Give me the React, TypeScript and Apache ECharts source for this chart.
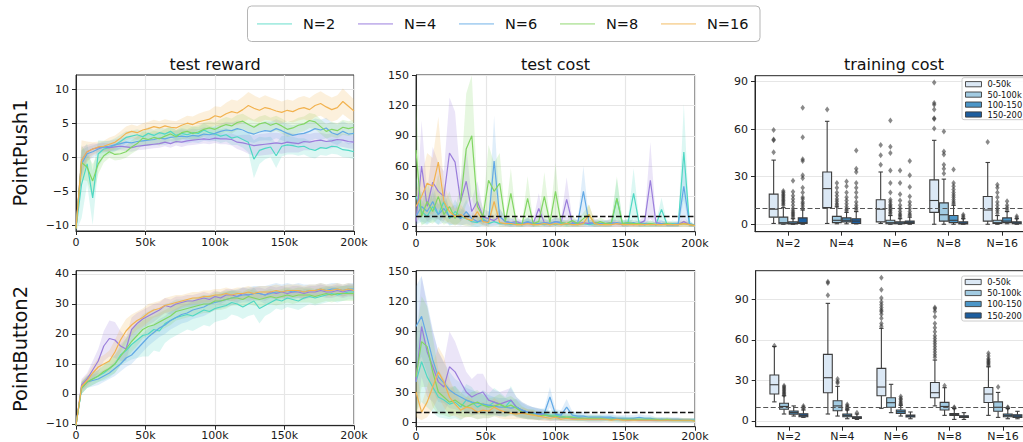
import React, { useEffect, useRef } from 'react';
import * as echarts from 'echarts';

// ---------- shared axis values ----------
const X_K = [0, 4, 8, 12, 16, 20, 24, 28, 32, 36, 40, 44, 48, 52, 56, 60, 64, 68, 72, 76, 80, 84, 88, 92, 96, 100, 104, 108, 112, 116, 120, 124, 128, 132, 136, 140, 144, 148, 152, 156, 160, 164, 168, 172, 176, 180, 184, 188, 192, 196, 200];
const NAMES = ['N=2', 'N=4', 'N=6', 'N=8', 'N=16'];
const CATS = ['N=2', 'N=4', 'N=6', 'N=8', 'N=16'];
const HUES = ['0-50k', '50-100k', '100-150', '150-200'];
const COST_LIMIT = 10;
const COLORS = ['#4fd8c4', '#9a7ddb', '#62a9e6', '#82d663', '#f2b24f'];
const LEGEND_COLORS = ['#a9ece2', '#c6b6ec', '#aed3f2', '#c0e9ae', '#f8d9a6'];
const BOX_COLORS = ['#dbe8f5', '#a2cbe2', '#4c96c8', '#1d5e9f'];

// ---------- PointPush1 test reward (mean, half-width) ----------
const R1_N2 = [-10.5, -4, -1, -6, 0.5, 1.2, 1.4, 1.8, 2.3, 2.9,
  3.1, 3.3, 3.0, 3.5, 3.2, 3.6, 3.4, 3.8, 3.2, 3.5,
  3.3, 3.6, 3.5, 4.0, 3.6, 3.4, 3.1, 3.3, 2.8, 3.0,
  2.6, 2.2, -0.3, 1.0, 1.3, 1.5, 0.2, 1.6, 1.8, 1.7,
  1.5, 1.6, 1.2, 1.0, 1.4, 1.3, 1.6, 1.5, 1.1, 1.0, 0.8];
const R1_N4 = [-10.5, -0.5, 0.8, 1.2, 1.4, 1.5, 1.4, 1.5, 1.6, 1.5,
  1.4, 1.6, 1.7, 1.8, 1.9, 2.0, 2.2, 2.0, 2.3, 2.2,
  2.4, 2.5, 2.6, 2.7, 2.6, 2.8, 2.7, 2.7, 2.6, 2.2,
  2.1, 1.9, 1.7, 1.8, 1.9, 2.0, 2.1, 2.0, 2.2, 2.1,
  2.0, 2.3, 2.2, 2.4, 2.5, 2.3, 2.4, 2.6, 2.5, 2.3, 2.2];
const R1_N6 = [-10.5, -1, 0.5, 0.8, 1.2, 1.5, 1.6, 1.8, 2.0, 2.2,
  2.1, 2.3, 2.4, 2.5, 2.6, 2.8, 2.7, 2.9, 3.0, 3.1,
  3.0, 3.2, 3.1, 3.4, 3.3, 3.5, 3.8, 4.0, 3.9, 4.2,
  4.0, 3.6, 3.4, 3.7, 3.9, 3.8, 4.2, 3.9, 3.5, 3.2,
  3.4, 3.5, 3.8, 4.2, 4.0, 4.3, 3.6, 3.3, 3.8, 3.4, 3.5];
const R1_N8 = [-10.5, -0.8, -1.5, -3.5, -1.0, 0.2, 0.8, 0.4, 0.5, 0.8,
  1.5, 2.0, 2.8, 2.6, 2.9, 2.7, 3.1, 3.4, 3.0, 3.6,
  3.8, 3.5, 3.7, 4.1, 4.3, 4.1, 4.5, 4.8, 4.6, 5.1,
  5.3, 4.8, 4.4, 4.9, 5.1, 4.7, 5.0, 4.6, 4.1, 4.3,
  4.7, 4.9, 5.4, 5.2, 4.5, 3.8, 4.1, 3.9, 4.4, 4.2, 4.4];
const R1_N16 = [-10.5, -0.5, 0.8, 1.2, 1.5, 1.6, 1.9, 2.2, 2.8, 3.5,
  3.8, 3.6, 4.0, 4.2, 4.5, 4.3, 4.6, 4.4, 4.3, 4.7,
  5.0, 4.8, 5.2, 5.4, 5.6, 6.1, 5.9, 6.4, 6.7, 6.5,
  7.0, 7.6, 7.2, 6.9, 7.3, 7.1, 6.8, 6.6, 6.9, 6.7,
  7.1, 7.3, 7.0, 7.6, 7.9, 7.4, 7.0, 7.3, 8.2, 7.5, 6.8];
const R1S_N2 = [0.5, 5, 3, 4, 2, 1.2, 1, 1, 1, 0.9,
  0.8, 0.8, 0.8, 0.9, 0.8, 0.8, 0.8, 0.8, 0.8, 0.8,
  0.8, 0.9, 0.9, 1, 1, 1, 1, 1, 1, 1.2,
  1.2, 1.5, 2.8, 2, 1.6, 1.5, 1.8, 1.5, 1.4, 1.3,
  1.3, 1.2, 1.2, 1.2, 1.1, 1.1, 1.1, 1.1, 1.1, 1.1, 1.1];
const R1S_N4 = [0.5, 2, 1, 0.8, 0.6, 0.6, 0.6, 0.6, 0.6, 0.6,
  0.6, 0.6, 0.6, 0.6, 0.6, 0.6, 0.6, 0.6, 0.6, 0.7,
  0.7, 0.7, 0.7, 0.7, 0.7, 0.7, 0.8, 0.8, 0.9, 1.0,
  1.2, 1.4, 1.5, 1.6, 1.6, 1.6, 1.5, 1.5, 1.5, 1.4,
  1.3, 1.3, 1.2, 1.2, 1.1, 1.1, 1.1, 1.0, 1.0, 1.0, 1.0];
const R1S_N6 = [0.5, 2, 1, 0.9, 0.8, 0.8, 0.8, 0.8, 0.8, 0.8,
  0.8, 0.8, 0.8, 0.8, 0.9, 0.9, 0.9, 0.9, 0.9, 1,
  1, 1, 1, 1, 1, 1.1, 1.1, 1.2, 1.2, 1.2,
  1.3, 1.3, 1.3, 1.3, 1.4, 1.4, 1.4, 1.4, 1.4, 1.5,
  1.5, 1.5, 1.5, 1.5, 1.5, 1.5, 1.5, 1.5, 1.5, 1.5, 1.5];
const R1S_N8 = [0.5, 2.5, 2, 2.5, 1.5, 1, 0.9, 0.9, 0.9, 0.9,
  1, 1, 1, 1, 1, 1, 1, 1, 1, 1,
  1, 1, 1, 1, 1, 1, 1.1, 1.1, 1.1, 1.1,
  1.1, 1.1, 1.1, 1.1, 1.1, 1.1, 1.1, 1.1, 1.1, 1.1,
  1.1, 1.1, 1.1, 1.1, 1.1, 1.1, 1.1, 1.1, 1.1, 1.1, 1.1];
const R1S_N16 = [0.5, 3, 1.5, 1, 0.8, 0.8, 1, 1, 1, 1,
  1, 1, 1, 1, 1, 1, 1, 1, 1, 1,
  1.1, 1.2, 1.2, 1.3, 1.3, 1.4, 1.5, 1.6, 1.8, 1.8,
  1.9, 2.0, 1.9, 1.8, 1.8, 1.7, 1.7, 1.6, 1.6, 1.6,
  1.7, 1.7, 1.7, 1.7, 1.8, 1.8, 1.8, 1.8, 1.9, 1.8, 1.7];

// ---------- PointButton2 test reward ----------
const R2_N2 = [-10.5, 2, 4, 5, 6, 7, 8.5, 10, 13, 14.5,
  16.5, 18, 19.5, 20, 21.5, 21, 23.5, 24.5, 25.5, 26,
  26.5, 26, 27, 28, 27.5, 28.5, 29, 29.5, 30.5, 30,
  29, 30, 31, 28.5, 29.5, 30.5, 31.5, 31, 32, 31.5,
  31, 32, 32.5, 32, 32.5, 33, 33.5, 33, 33.5, 34, 34];
const R2_N4 = [-10.5, 3, 5, 8, 11, 16, 18.5, 18, 16, 15,
  21.5, 23.5, 25, 26, 27, 28, 29.5, 29, 30, 30.5,
  31, 31, 31.5, 32, 31.5, 32.5, 32, 33, 33, 32.5,
  33.5, 33, 33.5, 33.5, 33, 34, 33.5, 34, 33.5, 34,
  34, 33.5, 34, 34, 34.5, 34, 34, 34.5, 34, 34.5, 34.5];
const R2_N6 = [-10.5, 2, 4, 4.5, 5, 6, 7, 8.5, 10, 12,
  13, 15, 17, 19, 20.5, 22, 23, 24.5, 25.5, 26.5,
  27, 28, 28.5, 29, 30, 30.5, 31, 31.5, 32, 32.5,
  33, 33, 33.5, 33.5, 33, 33.5, 34, 34, 34.5, 34,
  34.5, 34, 34.5, 34.5, 35, 34.5, 35, 35, 34.5, 35, 35];
const R2_N8 = [-10.5, 2, 4, 5, 6, 7.5, 8.5, 10, 12.5, 15,
  17.5, 19.5, 21.5, 22.5, 23, 24, 25, 26, 27.5, 28,
  28.5, 29, 29.5, 30, 30, 31, 31, 31.5, 32, 32,
  31.5, 32.5, 32, 31.5, 32, 32.5, 32, 32.5, 33, 32.5,
  33, 33, 33, 32.5, 33, 33.5, 33, 33.5, 33.5, 33.5, 33.5];
const R2_N16 = [-10.5, 2.5, 4.5, 7, 9, 10, 11, 14, 18, 21,
  23, 24.5, 25.5, 27, 28, 28.5, 29.5, 30, 30.5, 31,
  31.5, 32, 32, 32.5, 32.5, 33, 33, 33.5, 33, 33.5,
  33.5, 34, 33.5, 34, 34, 34, 34.5, 34, 34.5, 34.5,
  34.5, 34, 34.5, 34.5, 35, 34.5, 34.5, 35, 34.5, 35, 34.5];
const R2S_N2 = [0.5, 2, 2, 2, 2, 2.5, 3, 3, 3.5, 4,
  5, 6, 7, 7.5, 7, 7, 6.5, 6, 6, 5.5,
  5, 5, 5, 5, 5, 4.5, 4.5, 4.5, 4, 4,
  4, 4, 4.5, 5, 3.5, 3.5, 3, 3, 3, 3,
  3, 3, 2.5, 2.5, 2.5, 2.5, 2.5, 2.5, 2.5, 2.5, 2.5];
const R2S_N4 = [0.5, 2, 2, 3, 4, 5, 6, 6, 5, 4,
  4, 3.5, 3, 3, 3, 2.5, 2.5, 2.5, 2.5, 2,
  2, 2, 2, 2, 2, 2, 2, 2, 2, 2,
  2, 2, 2, 2, 2, 2, 2, 2, 2, 2,
  2, 2, 2, 2, 2, 2, 2, 2, 2, 2, 2];
const R2S_N6 = [0.5, 2, 2, 2, 2, 2, 2, 2.5, 2.5, 3,
  3, 3, 3, 3, 3, 3, 3, 3, 3, 3,
  3, 3, 3, 3, 3, 2.5, 2.5, 2.5, 2.5, 2.5,
  2.5, 2.5, 2.5, 2.5, 3, 3, 3, 2.5, 2.5, 2.5,
  2.5, 2.5, 2, 2, 2, 2, 2, 2, 2, 2, 2];
const R2S_N8 = [0.5, 2, 2, 2, 2, 2.5, 2.5, 3, 3, 3.5,
  3.5, 3.5, 3, 3, 3, 3, 3, 3, 3, 3,
  3, 3, 3, 3, 3, 3, 3, 3, 2.5, 2.5,
  2.5, 2.5, 2.5, 2.5, 2.5, 2.5, 2.5, 2.5, 2.5, 2.5,
  2.5, 2.5, 2.5, 2.5, 2.5, 2.5, 2.5, 2.5, 2.5, 2.5, 2.5];
const R2S_N16 = [0.5, 2, 2, 2.5, 3, 3, 3.5, 4, 4, 4,
  3.5, 3, 3, 3, 2.5, 2.5, 2.5, 2.5, 2.5, 2,
  2, 2, 2, 2, 2, 2, 2, 2, 2, 2,
  2, 2, 2, 2, 2, 2, 2, 2, 2, 2,
  2, 2, 2, 2, 2, 2, 2, 2, 2, 2, 2];

// ---------- PointPush1 test cost ----------
const C1_N2 = [30, 15, 10, 20, 12, 25, 8, 15, 10, 8,
  5, 4, 8, 3, 5, 3, 3, 2, 3, 2,
  5, 2, 3, 2, 3, 2, 3, 2, 3, 2,
  3, 2, 3, 2, 3, 2, 28, 3, 4, 33,
  3, 2, 3, 2, 17, 2, 3, 2, 74, 3, 1];
const C1_N4 = [5, 60, 20, 44, 35, 30, 73, 64, 25, 45,
  15, 25, 10, 8, 6, 10, 5, 4, 5, 3,
  4, 3, 18, 4, 3, 5, 4, 27, 4, 3,
  4, 3, 4, 3, 3, 4, 3, 2, 3, 2,
  3, 6, 46, 4, 3, 2, 2, 2, 5, 2, 1];
const C1_N6 = [10, 20, 15, 25, 12, 18, 10, 12, 8, 15,
  8, 5, 6, 5, 65, 10, 5, 4, 3, 3,
  5, 3, 3, 4, 3, 5, 4, 3, 3, 4,
  35, 4, 3, 3, 3, 3, 4, 3, 3, 4,
  2, 3, 2, 2, 3, 2, 2, 3, 40, 3, 1];
const C1_N8 = [76, 10, 25, 15, 30, 12, 20, 8, 25, 77,
  90, 20, 10, 46, 35, 43, 5, 33, 3, 2,
  28, 3, 5, 30, 4, 35, 4, 3, 6, 3,
  8, 12, 3, 5, 3, 4, 28, 3, 4, 3,
  3, 2, 3, 2, 2, 3, 2, 2, 3, 2, 1];
const C1_N16 = [20, 30, 43, 40, 64, 25, 15, 10, 12, 8,
  6, 15, 5, 4, 25, 4, 3, 3, 2, 2,
  3, 2, 2, 3, 2, 3, 2, 3, 2, 2,
  3, 12, 3, 2, 2, 2, 3, 2, 2, 2,
  2, 2, 2, 2, 2, 2, 2, 2, 3, 2, 1];
const C1S_N2 = [20, 12, 8, 15, 10, 15, 7, 12, 8, 7,
  5, 4, 7, 3, 4, 3, 3, 2, 3, 2,
  4, 2, 3, 2, 3, 2, 3, 2, 3, 2,
  3, 2, 3, 2, 3, 2, 20, 3, 4, 25,
  3, 2, 3, 2, 12, 2, 3, 2, 48, 3, 1];
const C1S_N4 = [5, 45, 15, 35, 28, 25, 55, 50, 20, 35,
  12, 20, 8, 7, 5, 8, 4, 4, 4, 3,
  4, 3, 15, 4, 3, 4, 4, 22, 4, 3,
  4, 3, 4, 3, 3, 4, 3, 2, 3, 2,
  3, 5, 38, 4, 3, 2, 2, 2, 4, 2, 1];
const C1S_N6 = [8, 15, 12, 18, 10, 14, 8, 10, 7, 12,
  7, 5, 5, 4, 45, 8, 4, 4, 3, 3,
  4, 3, 3, 3, 3, 4, 3, 3, 3, 3,
  25, 3, 3, 3, 3, 3, 3, 3, 3, 3,
  2, 3, 2, 2, 3, 2, 2, 3, 30, 3, 1];
const C1S_N8 = [50, 9, 20, 12, 22, 10, 15, 7, 20, 55,
  60, 15, 8, 35, 28, 30, 4, 25, 3, 2,
  22, 3, 4, 24, 4, 28, 3, 3, 5, 3,
  6, 10, 3, 4, 3, 3, 22, 3, 3, 3,
  3, 2, 3, 2, 2, 3, 2, 2, 3, 2, 1];
const C1S_N16 = [15, 20, 30, 28, 45, 18, 12, 8, 10, 7,
  5, 12, 4, 4, 18, 4, 3, 3, 2, 2,
  3, 2, 2, 3, 2, 3, 2, 3, 2, 2,
  3, 10, 3, 2, 2, 2, 3, 2, 2, 2,
  2, 2, 2, 2, 2, 2, 2, 2, 3, 2, 1];

// ---------- PointButton2 test cost ----------
const C2_N2 = [40, 60, 45, 35, 25, 22, 18, 20, 15, 22,
  20, 15, 18, 16, 20, 18, 15, 22, 15, 12,
  10, 9, 8, 8, 7, 7, 6, 5, 5, 5,
  4, 4, 4, 4, 4, 4, 3, 3, 3, 3,
  3, 3, 3, 2, 3, 2, 2, 2, 2, 2, 2];
const C2_N4 = [40, 95, 70, 55, 40, 35, 55, 50, 40, 30,
  25, 28, 30, 22, 20, 18, 20, 22, 15, 12,
  10, 9, 8, 7, 6, 5, 5, 4, 4, 4,
  4, 3, 3, 3, 3, 3, 3, 3, 2, 3,
  2, 2, 2, 2, 2, 2, 2, 2, 2, 2, 2];
const C2_N6 = [95, 105, 84, 62, 45, 39, 32, 28, 25, 22,
  20, 19, 18, 17, 16, 15, 15, 14, 15, 12,
  10, 9, 8, 9, 25, 8, 7, 15, 7, 6,
  6, 5, 5, 5, 5, 5, 4, 4, 4, 4,
  5, 4, 4, 3, 3, 3, 3, 3, 2, 2, 2];
const C2_N8 = [45, 80, 75, 50, 30, 25, 20, 22, 18, 15,
  18, 20, 17, 15, 16, 18, 15, 17, 14, 10,
  8, 8, 6, 7, 6, 6, 5, 5, 5, 4,
  4, 4, 4, 4, 3, 3, 3, 3, 3, 3,
  3, 3, 3, 3, 2, 3, 2, 2, 2, 2, 2];
const C2_N16 = [30, 10, 20, 35, 50, 40, 25, 18, 12, 15,
  14, 10, 12, 11, 15, 12, 10, 9, 8, 9,
  8, 7, 6, 5, 4, 5, 3, 4, 3, 3,
  3, 3, 3, 3, 3, 2, 3, 2, 2, 2,
  2, 2, 2, 2, 2, 2, 2, 2, 2, 2, 1];
const C2S_N2 = [30, 40, 30, 25, 20, 18, 15, 16, 13, 16,
  15, 12, 14, 12, 14, 12, 10, 14, 10, 8,
  7, 6, 6, 5, 5, 5, 4, 4, 4, 4,
  3, 3, 3, 3, 3, 3, 3, 3, 2, 2,
  2, 2, 2, 2, 2, 2, 2, 2, 2, 2, 2];
const C2S_N4 = [35, 50, 45, 35, 30, 25, 35, 30, 25, 20,
  18, 20, 18, 15, 12, 12, 12, 12, 10, 8,
  7, 6, 6, 5, 5, 4, 4, 3, 3, 3,
  3, 3, 3, 3, 2, 2, 2, 2, 2, 2,
  2, 2, 2, 2, 2, 2, 2, 2, 2, 2, 2];
const C2S_N6 = [40, 40, 35, 30, 25, 20, 18, 15, 14, 12,
  12, 11, 10, 10, 9, 9, 9, 8, 8, 7,
  6, 6, 5, 5, 10, 5, 5, 8, 4, 4,
  4, 3, 3, 3, 3, 3, 3, 3, 3, 3,
  3, 3, 3, 2, 2, 2, 2, 2, 2, 2, 2];
const C2S_N8 = [40, 45, 40, 35, 22, 18, 15, 14, 12, 10,
  12, 12, 10, 9, 9, 10, 9, 9, 8, 6,
  5, 5, 4, 4, 4, 4, 3, 3, 3, 3,
  3, 3, 3, 3, 2, 2, 2, 2, 2, 2,
  2, 2, 2, 2, 2, 2, 2, 2, 2, 2, 2];
const C2S_N16 = [25, 8, 15, 22, 25, 25, 18, 12, 9, 10,
  9, 7, 8, 7, 9, 8, 7, 6, 5, 6,
  5, 5, 4, 4, 3, 3, 2, 3, 2, 2,
  2, 2, 2, 2, 2, 2, 2, 2, 2, 2,
  2, 2, 2, 2, 2, 2, 2, 2, 2, 2, 1];

// ---------- training cost boxes: [low whisker, q1, median, q3, high whisker] per category ----------
const PP1_BOX_H0 = [[0.5, 4.5, 9.5, 19, 40.5], [0.5, 10.5, 22.5, 33, 65], [0.5, 1.5, 9.5, 15.5, 33], [0, 7.5, 15, 28, 53], [0, 2, 9, 17.5, 39]];
const PP1_BOX_H1 = [[0, 0.3, 1, 4.5, 10.5], [0.3, 1, 2.5, 5, 11], [0, 0.3, 1, 2.5, 5.5], [0, 2, 6, 13.5, 28.5], [0, 0.5, 1, 2.5, 5.5]];
const PP1_BOX_H2 = [[0, 0.2, 0.5, 1.5, 3.5], [0.3, 1.5, 2.5, 4, 7.5], [0, 0.3, 0.8, 1.5, 3.5], [0, 1, 2.5, 5.5, 12], [0.3, 1, 2, 4, 8]];
const PP1_BOX_H3 = [[0, 0.5, 1, 4, 9], [0.2, 0.5, 2, 3.5, 8], [0, 0.5, 1, 2, 4.5], [0, 0.2, 0.5, 1.5, 3.5], [0, 0.3, 0.8, 1.5, 3.5]];
const PP1_OUT_H0 = [[45.5, 53, 53.5, 59.5], [72.5], [37.5, 43.5, 50], [60.5, 66.5, 67, 72.5, 75.5, 76.5, 89.5], [52]];
const PP1_OUT_H1 = [[12, 13, 14, 15, 16, 17, 18, 19, 20, 21], [12, 13, 14.5, 16, 18, 20, 23, 26], [6.5, 7.5, 8.5, 9.5, 10.5, 11.5, 12.5, 14, 15.5, 20, 26, 34, 45, 49, 65.5], [32, 35, 37.5, 44, 46, 58.5], [7, 8.5, 10, 12, 14, 17, 20, 23, 25]];
const PP1_OUT_H2 = [[4.5, 5.5, 6.5, 7.5, 8.5, 10, 12, 14, 16, 18, 20.5, 27.5], [8.5, 9.5, 11, 13, 15, 17, 20, 24, 27], [4.5, 5.5, 6.5, 8, 10, 12, 15, 19, 26, 34], [13, 14, 15.5, 17, 18.5, 20, 22, 24, 26, 34.5], [9, 10.5, 12, 14.5]];
const PP1_OUT_H3 = [[10, 11.5, 13, 14, 16, 17, 20, 23, 29, 31, 40, 41, 55, 73.5], [9, 10.5, 12, 14, 17, 20, 23, 26, 33, 35, 46.5], [5.5, 6.5, 8, 10, 12, 14, 17.5, 23.5, 31, 40], [4, 5, 6], [4, 5]];

const PB2_BOX_H0 = [[14, 19.8, 26.7, 33.9, 55], [5, 20.8, 31.9, 49.2, 87], [9.2, 18.5, 25, 38.8, 68.5], [11, 17, 20.8, 28.4, 45], [4, 13.5, 19.8, 24.7, 40]];
const PB2_BOX_H1 = [[5, 8.5, 10.6, 13, 18.5], [3.5, 7.4, 11, 14.8, 25.5], [6, 10, 13.4, 17, 27], [4, 8, 10.6, 13.6, 24.5], [2.5, 7, 10, 14, 21]];
const PB2_BOX_H2 = [[3.5, 4.9, 6.2, 7.2, 11], [1.5, 3, 4, 5, 8], [3.5, 5.4, 6.7, 8, 11.5], [1, 4, 4.7, 5.4, 9], [1.5, 3, 4, 5, 9]];
const PB2_BOX_H3 = [[2.5, 3, 4, 5.2, 8], [1, 1.7, 2.5, 3, 5], [1.5, 2.8, 3.5, 4.2, 6.5], [1, 2.5, 3, 3.7, 6], [1.5, 2.5, 3.5, 4.5, 7]];
const PB2_OUT_H0 = [[55.5], [93, 102, 103], [70, 72, 76, 79, 81, 82, 84, 86, 88, 91, 97, 106], [47, 49, 51, 53, 55, 57, 59, 61, 63, 66, 69, 72, 77, 81, 83, 84], [41, 42, 43, 44, 45, 46, 48, 50]];
const PB2_OUT_H1 = [[19, 20, 21, 22, 23, 24, 25, 26], [28, 29, 31], [], [26], [25]];
const PB2_OUT_H2 = [[], [8.5, 9, 10, 11, 12], [12, 13, 14, 15.5, 16.5, 18], [9.5, 10], [9.5, 10]];
const PB2_OUT_H3 = [[9, 10, 11], [6], [], [], []];

// ---------- tick values ----------
const R1_TICKS = [-10, -5, 0, 5, 10];
const R2_TICKS = [-10, 0, 10, 20, 30, 40];
const COST_TICKS = [0, 30, 60, 90, 120, 150];
const BOX_TICKS = [0, 30, 60, 90];
const CAT_TICKS = [0, 1, 2, 3, 4];

// ---------- layout / style ----------
const FONT = 'DejaVu Sans';
const AXIS_COLOR = '#262626';
const GRID_COLOR = '#e6e6e6';
const BOX_EDGE = '#3d3d3d';
const HUE_OFF = 0.181;
const BOX_W = 0.165;

const GRIDS = [
  { left: 76, top: 75, width: 278, height: 156 },
  { left: 416, top: 75, width: 279, height: 156.7 },
  { left: 755, top: 75.7, width: 274, height: 156 },
  { left: 76, top: 270.7, width: 278, height: 155 },
  { left: 416, top: 270.7, width: 279, height: 156 },
  { left: 755.7, top: 270.7, width: 274, height: 156 },
];
const Y_RANGES = [
  { min: -10.88, max: 12.1, ticks: R1_TICKS },
  { min: -5, max: 150.3, ticks: COST_TICKS },
  { min: -4.7, max: 93.8, ticks: BOX_TICKS },
  { min: -10.57, max: 41.1, ticks: R2_TICKS },
  { min: -4.4, max: 150.3, ticks: COST_TICKS },
  { min: -4.4, max: 111.2, ticks: BOX_TICKS },
];

const fmtNum = (v: number) => (v < 0 ? '\u2212' + Math.abs(v) : String(v));
const labelStyle = { color: '#1a1a1a', fontFamily: FONT, fontSize: 11 };

function buildOption() {
  const grid = GRIDS.map((g) => ({ ...g, show: true, borderColor: AXIS_COLOR, borderWidth: 1, containLabel: false, outerBoundsMode: 'none' }));

  const xAxis = GRIDS.map((_, gi) => {
    const isBox = gi === 2 || gi === 5;
    const margin = gi >= 3 ? 4.5 : 6;
    if (isBox) {
      return {
        type: 'value', gridIndex: gi, min: -0.62, max: 4.5,
        axisLine: { show: true, onZero: false, lineStyle: { color: AXIS_COLOR } },
        axisTick: { show: true, length: 4, customValues: CAT_TICKS, lineStyle: { color: AXIS_COLOR } },
        axisLabel: { ...labelStyle, margin, customValues: CAT_TICKS, formatter: (v: number) => CATS[Math.round(v)] },
        splitLine: { show: false },
      };
    }
    return {
      type: 'value', gridIndex: gi, min: 0, max: 200, interval: 50,
      axisLine: { show: true, onZero: false, lineStyle: { color: AXIS_COLOR } },
      axisTick: { show: true, length: 4, lineStyle: { color: AXIS_COLOR } },
      axisLabel: { ...labelStyle, margin, showMinLabel: true, showMaxLabel: true, formatter: (v: number) => (v === 0 ? '0' : v + 'k') },
      splitLine: { show: true, lineStyle: { color: GRID_COLOR, width: 1.2 } },
    };
  });

  const yAxis = Y_RANGES.map((r, gi) => ({
    type: 'value', gridIndex: gi, min: r.min, max: r.max,
    axisLine: { show: true, onZero: false, lineStyle: { color: AXIS_COLOR } },
    axisTick: { show: true, length: 4, customValues: r.ticks, lineStyle: { color: AXIS_COLOR } },
    axisLabel: { ...labelStyle, margin: 7, customValues: r.ticks, formatter: fmtNum },
    splitLine: { show: true, lineStyle: { color: GRID_COLOR, width: 1.2 } },
  }));

  const series: any[] = [];
  const LINE_PANELS = [
    { gi: 0, means: [R1_N2, R1_N4, R1_N6, R1_N8, R1_N16], spreads: [R1S_N2, R1S_N4, R1S_N6, R1S_N8, R1S_N16], limit: false },
    { gi: 1, means: [C1_N2, C1_N4, C1_N6, C1_N8, C1_N16], spreads: [C1S_N2, C1S_N4, C1S_N6, C1S_N8, C1S_N16], limit: true },
    { gi: 3, means: [R2_N2, R2_N4, R2_N6, R2_N8, R2_N16], spreads: [R2S_N2, R2S_N4, R2S_N6, R2S_N8, R2S_N16], limit: false },
    { gi: 4, means: [C2_N2, C2_N4, C2_N6, C2_N8, C2_N16], spreads: [C2S_N2, C2S_N4, C2S_N6, C2S_N8, C2S_N16], limit: true },
  ];

  LINE_PANELS.forEach((p) => {
    p.means.forEach((m, s) => {
      const sp = p.spreads[s];
      const lo = m.map((v, i) => v - sp[i]);
      const hi = m.map((v, i) => v + sp[i]);
      series.push({
        type: 'custom', xAxisIndex: p.gi, yAxisIndex: p.gi, clip: true, silent: true, z: 1,
        data: X_K.map((x, i) => [x, lo[i], hi[i]]),
        encode: { x: 0, y: [1, 2] },
        renderItem: (params: any, api: any) => {
          if (params.dataIndex !== 0) return null;
          const pts: number[][] = [];
          for (let i = 0; i < X_K.length; i++) pts.push(api.coord([X_K[i], hi[i]]));
          for (let i = X_K.length - 1; i >= 0; i--) pts.push(api.coord([X_K[i], lo[i]]));
          return { type: 'polygon', shape: { points: pts }, style: { fill: COLORS[s], opacity: 0.2 } };
        },
      });
    });
    p.means.forEach((m, s) => {
      const ser: any = {
        type: 'line', name: NAMES[s], xAxisIndex: p.gi, yAxisIndex: p.gi, silent: true, z: 2,
        data: X_K.map((x, i) => [x, m[i]]),
        showSymbol: false, symbol: 'none',
        lineStyle: { width: 1.2, color: COLORS[s] }, itemStyle: { color: COLORS[s] },
      };
      if (p.limit && s === p.means.length - 1) {
        ser.markLine = {
          silent: true, symbol: 'none', label: { show: false }, z: 5,
          lineStyle: { color: '#111', width: 1.4, type: [5.5, 2.5] },
          data: [{ yAxis: COST_LIMIT }],
        };
      }
      series.push(ser);
    });
  });

  const BOX_PANELS = [
    { gi: 2, box: [PP1_BOX_H0, PP1_BOX_H1, PP1_BOX_H2, PP1_BOX_H3], out: [PP1_OUT_H0, PP1_OUT_H1, PP1_OUT_H2, PP1_OUT_H3] },
    { gi: 5, box: [PB2_BOX_H0, PB2_BOX_H1, PB2_BOX_H2, PB2_BOX_H3], out: [PB2_OUT_H0, PB2_OUT_H1, PB2_OUT_H2, PB2_OUT_H3] },
  ];
  BOX_PANELS.forEach((b) => {
    const items: number[][] = [];
    const outs: number[][] = [];
    b.box.forEach((hueArr, h) => hueArr.forEach((st, c) => {
      const xp = c + (h - 1.5) * HUE_OFF;
      items.push([xp, st[0], st[1], st[2], st[3], st[4], h]);
      b.out[h][c].forEach((v) => outs.push([xp, v]));
    }));
    series.push({
      type: 'custom', xAxisIndex: b.gi, yAxisIndex: b.gi, silent: true, z: 2,
      data: items, encode: { x: 0, y: [1, 2, 3, 4, 5] },
      renderItem: (params: any, api: any) => {
        const x = api.value(0);
        const h = api.value(6);
        const pLo = api.coord([x, api.value(1)]);
        const pQ1 = api.coord([x, api.value(2)]);
        const pMed = api.coord([x, api.value(3)]);
        const pQ3 = api.coord([x, api.value(4)]);
        const pHi = api.coord([x, api.value(5)]);
        const w = api.coord([x + BOX_W / 2, 0])[0] - api.coord([x - BOX_W / 2, 0])[0];
        const cx = pLo[0];
        const st = { stroke: BOX_EDGE, lineWidth: 1.1, fill: null };
        return {
          type: 'group', children: [
            { type: 'line', shape: { x1: cx, y1: pQ1[1], x2: cx, y2: pLo[1] }, style: st },
            { type: 'line', shape: { x1: cx, y1: pQ3[1], x2: cx, y2: pHi[1] }, style: st },
            { type: 'line', shape: { x1: cx - w / 4, y1: pLo[1], x2: cx + w / 4, y2: pLo[1] }, style: st },
            { type: 'line', shape: { x1: cx - w / 4, y1: pHi[1], x2: cx + w / 4, y2: pHi[1] }, style: st },
            { type: 'rect', shape: { x: cx - w / 2, y: pQ3[1], width: w, height: Math.max(pQ1[1] - pQ3[1], 0.8) }, style: { fill: BOX_COLORS[h], stroke: BOX_EDGE, lineWidth: 1.1 } },
            { type: 'line', shape: { x1: cx - w / 2, y1: pMed[1], x2: cx + w / 2, y2: pMed[1] }, style: st },
          ],
        };
      },
    });
    series.push({
      type: 'scatter', xAxisIndex: b.gi, yAxisIndex: b.gi, silent: true, z: 3,
      data: outs, symbol: 'diamond', symbolSize: [4.5, 6],
      itemStyle: { color: 'rgba(50,50,50,0.72)' },
      markLine: {
        silent: true, symbol: 'none', label: { show: false }, z: 5,
        lineStyle: { color: '#555', width: 1.2, type: [5, 2.5] },
        data: [{ yAxis: COST_LIMIT }],
      },
    });
  });

  const txt = (text: string, x: number, y: number, size: number, align = 'center', extra: any = {}) => ({
    type: 'text', x, y, silent: true, z: 10, ...extra,
    style: { text, fill: '#111', fontSize: size, fontFamily: FONT, align, verticalAlign: 'middle', textAlign: align, textVerticalAlign: 'middle' },
  });

  const graphic: any[] = [];
  graphic.push(txt('test reward', 215, 64, 16));
  graphic.push(txt('test cost', 555.5, 64, 16));
  graphic.push(txt('training cost', 894, 64, 16));
  graphic.push(txt('PointPush1', 20.5, 153, 19.5, 'center', { rotation: Math.PI / 2 }));
  graphic.push(txt('PointButton2', 20.5, 349, 19.5, 'center', { rotation: Math.PI / 2 }));

  graphic.push({ type: 'rect', z: 9, silent: true, shape: { x: 247.5, y: 6, width: 512.5, height: 35.5, r: 4 }, style: { fill: '#fff', stroke: '#b5b5b5', lineWidth: 1 } });
  const LX = [257, 358, 459, 560, 661];
  NAMES.forEach((n, i) => {
    graphic.push({ type: 'line', z: 10, silent: true, shape: { x1: LX[i], y1: 23.8, x2: LX[i] + 35, y2: 23.8 }, style: { stroke: LEGEND_COLORS[i], lineWidth: 1.8 } });
    graphic.push(txt(n, LX[i] + 46, 24, 14.5, 'left'));
  });

  const boxLegend = (x: number, y: number, h: number, rows: number[]) => {
    graphic.push({ type: 'rect', z: 9, silent: true, shape: { x, y, width: 75, height: h, r: 2 }, style: { fill: 'rgba(255,255,255,0.85)', stroke: '#cccccc', lineWidth: 1 } });
    HUES.forEach((hn, i) => {
      graphic.push({ type: 'rect', z: 10, silent: true, shape: { x: x + 3.5, y: rows[i] - 2.6, width: 16, height: 5.2 }, style: { fill: BOX_COLORS[i], stroke: BOX_EDGE, lineWidth: 0.9 } });
      graphic.push(txt(hn, x + 25.5, rows[i], 8.3, 'left'));
    });
  };
  boxLegend(962, 77.7, 42, [84.2, 94.6, 104.6, 114.5]);
  boxLegend(961.7, 276, 45, [282, 293, 304, 315.5]);

  return {
    animation: false,
    backgroundColor: '#ffffff',
    textStyle: { fontFamily: FONT },
    grid, xAxis, yAxis, series, graphic,
  };
}

export default function App() {
  const ref = useRef<HTMLDivElement>(null);
  useEffect(() => {
    if (!ref.current) return;
    const chart = echarts.init(ref.current, null, { renderer: 'svg' });
    chart.setOption(buildOption() as any);
    return () => chart.dispose();
  }, []);
  return <div ref={ref} style={{ position: 'fixed', left: 0, top: 0, width: 1023, height: 442, background: '#fff' }} />;
}
